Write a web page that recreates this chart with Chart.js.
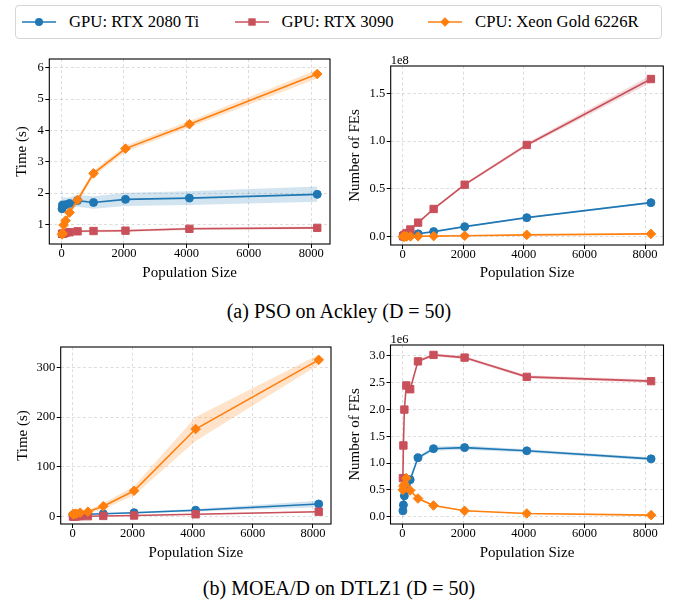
<!DOCTYPE html>
<html>
<head>
<meta charset="utf-8">
<script src="https://cdn.jsdelivr.net/npm/chart.js@4.4.1/dist/chart.umd.min.js"></script>
<style>
  html, body { margin: 0; padding: 0; background: #fff; }
  body { position: relative; width: 678px; height: 603px; overflow: hidden;
         font-family: "Liberation Serif", "Times New Roman", serif; color: #000; }
  canvas { position: absolute; }
  #legend { position: absolute; left: 15px; top: 5px; width: 647px; height: 34px;
            border: 1px solid #d6d6d6; border-radius: 4px; box-sizing: border-box; }
  .entry { position: absolute; top: 0; height: 32px; display: flex; align-items: center;
           font-size: 16.7px; white-space: nowrap; }
  .entry svg { margin-right: 13px; }
  .caption { position: absolute; left: 0; width: 678px; text-align: center;
             font-size: 20px; line-height: 20px; }
</style>
</head>
<body>
<div id="legend"></div>
<canvas id="psoTime" width="340" height="250" style="left:0px;top:50px"></canvas>
<canvas id="psoFes" width="338" height="250" style="left:340px;top:50px"></canvas>
<div class="caption" style="top:301px">(a) PSO on Ackley (D = 50)</div>
<canvas id="moeadTime" width="340" height="240" style="left:0px;top:330px"></canvas>
<canvas id="moeadFes" width="338" height="240" style="left:340px;top:330px"></canvas>
<div class="caption" style="top:578px">(b) MOEA/D on DTLZ1 (D = 50)</div>

<script>
// ---- data -------------------------------------------------------------
const POP_SIZES = [16, 32, 64, 128, 256, 512, 1024, 2048, 4096, 8192];
const SERIES_NAMES = ['GPU: RTX 2080 Ti', 'GPU: RTX 3090', 'CPU: Xeon Gold 6226R'];
const X_TICKS = [0, 2000, 4000, 6000, 8000];

// PSO on Ackley: wall-clock time (s), mean and spread band
const PSO_TIME_2080    = [1.50, 1.62, 1.60, 1.63, 1.67, 1.76, 1.70, 1.80, 1.84, 1.96];
const PSO_TIME_2080_LO = [1.36, 1.42, 1.44, 1.47, 1.50, 1.56, 1.50, 1.59, 1.62, 1.72];
const PSO_TIME_2080_HI = [2.32, 1.90, 1.86, 1.86, 1.87, 1.95, 1.90, 2.01, 2.06, 2.21];
const PSO_TIME_3090    = [0.70, 0.70, 0.71, 0.73, 0.75, 0.78, 0.79, 0.80, 0.86, 0.89];
const PSO_TIME_3090_LO = [0.66, 0.66, 0.67, 0.69, 0.71, 0.74, 0.75, 0.76, 0.82, 0.85];
const PSO_TIME_3090_HI = [0.74, 0.74, 0.75, 0.77, 0.79, 0.82, 0.83, 0.84, 0.90, 0.93];
const PSO_TIME_CPU     = [0.68, 0.72, 0.98, 1.12, 1.38, 1.78, 2.63, 3.42, 4.20, 5.80];
const PSO_TIME_CPU_LO  = [0.60, 0.63, 0.88, 1.02, 1.28, 1.68, 2.54, 3.32, 4.10, 5.66];
const PSO_TIME_CPU_HI  = [0.76, 0.81, 1.08, 1.22, 1.48, 1.88, 2.72, 3.52, 4.30, 5.94];
const PSO_TIME_YTICKS  = [1, 2, 3, 4, 5, 6];
const PSO_TIME_YLABELS = ['1', '2', '3', '4', '5', '6'];

// PSO on Ackley: number of function evaluations (x 1e8)
const PSO_FES_2080    = [0.0010, 0.0019, 0.0038, 0.0075, 0.015, 0.030, 0.053, 0.105, 0.199, 0.356];
const PSO_FES_2080_LO = [0.0008, 0.0016, 0.0034, 0.0068, 0.014, 0.028, 0.050, 0.100, 0.192, 0.346];
const PSO_FES_2080_HI = [0.0012, 0.0022, 0.0042, 0.0082, 0.016, 0.032, 0.056, 0.110, 0.206, 0.366];
const PSO_FES_3090    = [0.0048, 0.0096, 0.019, 0.038, 0.075, 0.147, 0.290, 0.544, 0.960, 1.650];
const PSO_FES_3090_LO = [0.0040, 0.0080, 0.017, 0.035, 0.070, 0.140, 0.280, 0.530, 0.940, 1.610];
const PSO_FES_3090_HI = [0.0060, 0.0110, 0.021, 0.041, 0.080, 0.155, 0.300, 0.560, 0.980, 1.690];
const PSO_FES_CPU     = [0.0005, 0.0010, 0.0015, 0.0020, 0.0030, 0.0040, 0.006, 0.010, 0.019, 0.029];
const PSO_FES_CPU_LO  = [0.0003, 0.0007, 0.0011, 0.0016, 0.0025, 0.0034, 0.005, 0.008, 0.016, 0.025];
const PSO_FES_CPU_HI  = [0.0007, 0.0013, 0.0019, 0.0024, 0.0035, 0.0046, 0.007, 0.012, 0.022, 0.033];
const PSO_FES_YTICKS  = [0, 0.5, 1.0, 1.5];
const PSO_FES_YLABELS = ['0.0', '0.5', '1.0', '1.5'];

// MOEA/D on DTLZ1: wall-clock time (s)
const MOEAD_TIME_2080    = [3.0, 3.1, 3.3, 3.6, 4.2, 5.0, 6.0, 8.0, 13.0, 25.5];
const MOEAD_TIME_2080_LO = [2.5, 2.6, 2.8, 3.1, 3.6, 4.3, 5.0, 6.5, 10.5, 19.0];
const MOEAD_TIME_2080_HI = [3.5, 3.6, 3.8, 4.1, 4.8, 5.7, 7.0, 9.5, 15.5, 32.0];
const MOEAD_TIME_3090    = [0.40, 0.45, 0.50, 0.60, 0.75, 1.0, 1.5, 2.4, 4.8, 10.0];
const MOEAD_TIME_3090_LO = [0.30, 0.35, 0.40, 0.50, 0.60, 0.8, 1.2, 2.0, 4.1, 8.8];
const MOEAD_TIME_3090_HI = [0.50, 0.55, 0.60, 0.70, 0.90, 1.2, 1.8, 2.8, 5.5, 11.2];
const MOEAD_TIME_CPU     = [5.0, 5.0, 5.5, 6.0, 8.0, 10.0, 21.0, 52.0, 176.0, 315.0];
const MOEAD_TIME_CPU_LO  = [3.0, 3.0, 3.5, 4.0, 5.5, 7.0, 15.0, 43.0, 152.0, 305.0];
const MOEAD_TIME_CPU_HI  = [7.0, 7.0, 7.5, 8.0, 10.5, 13.0, 27.0, 61.0, 200.0, 325.0];
const MOEAD_TIME_YTICKS  = [0, 100, 200, 300];
const MOEAD_TIME_YLABELS = ['0', '100', '200', '300'];

// MOEA/D on DTLZ1: number of function evaluations (x 1e6)
const MOEAD_FES_2080    = [0.11, 0.22, 0.39, 0.60, 0.69, 1.10, 1.27, 1.29, 1.23, 1.08];
const MOEAD_FES_2080_LO = [0.10, 0.21, 0.37, 0.58, 0.67, 1.07, 1.23, 1.25, 1.20, 1.05];
const MOEAD_FES_2080_HI = [0.12, 0.23, 0.41, 0.62, 0.71, 1.13, 1.31, 1.33, 1.26, 1.11];
const MOEAD_FES_3090    = [0.72, 1.33, 2.00, 2.45, 2.38, 2.90, 3.02, 2.97, 2.61, 2.53];
const MOEAD_FES_3090_LO = [0.70, 1.30, 1.97, 2.42, 2.35, 2.87, 2.99, 2.94, 2.58, 2.50];
const MOEAD_FES_3090_HI = [0.74, 1.36, 2.03, 2.48, 2.41, 2.93, 3.05, 3.00, 2.64, 2.56];
const MOEAD_FES_CPU     = [0.50, 0.57, 0.60, 0.72, 0.49, 0.34, 0.21, 0.11, 0.06, 0.03];
const MOEAD_FES_CPU_LO  = [0.48, 0.55, 0.58, 0.69, 0.47, 0.32, 0.19, 0.10, 0.05, 0.02];
const MOEAD_FES_CPU_HI  = [0.52, 0.59, 0.62, 0.75, 0.51, 0.36, 0.23, 0.12, 0.07, 0.04];
const MOEAD_FES_YTICKS  = [0, 0.5, 1.0, 1.5, 2.0, 2.5, 3.0];
const MOEAD_FES_YLABELS = ['0.0', '0.5', '1.0', '1.5', '2.0', '2.5', '3.0'];

// ---- styling ----------------------------------------------------------
const COLORS  = ['#1f77b4', '#c9505a', '#ff7f0e'];
const BANDS   = ['rgba(31,119,180,0.2)', 'rgba(201,80,90,0.2)', 'rgba(255,127,14,0.22)'];
const MARKERS = ['circle', 'rect', 'rectRot'];
const RADII   = [4, 5.2, 4.8];
const FONT = '"Liberation Serif", "Times New Roman", serif';
const X_RANGE = [-392.8, 8600.8];

Chart.defaults.font.family = FONT;
Chart.defaults.color = '#000';

// ---- legend (HTML) ----------------------------------------------------
(function buildLegend() {
  const legend = document.getElementById('legend');
  const lefts = [6, 218.5, 412];
  SERIES_NAMES.forEach((name, i) => {
    const c = COLORS[i];
    let mark;
    if (MARKERS[i] === 'circle') mark = `<circle cx="17" cy="8" r="4" fill="${c}"/>`;
    else if (MARKERS[i] === 'rect') mark = `<rect x="13.3" y="4.3" width="7.4" height="7.4" fill="${c}"/>`;
    else mark = `<polygon points="17,3.2 21.8,8 17,12.8 12.2,8" fill="${c}"/>`;
    const div = document.createElement('div');
    div.className = 'entry';
    div.style.left = lefts[i] + 'px';
    div.innerHTML = `<svg width="34" height="16"><line x1="0" y1="8" x2="34" y2="8" stroke="${c}" stroke-width="1.6"/>${mark}</svg><span>${name}</span>`;
    legend.appendChild(div);
  });
})();

// ---- chart factory ----------------------------------------------------
const axesBox = {
  id: 'axesBox',
  afterDraw(chart, args, opts) {
    const { ctx, chartArea: a } = chart;
    ctx.save();
    ctx.strokeStyle = '#000';
    ctx.lineWidth = 1.1;
    ctx.strokeRect(a.left, a.top, a.right - a.left, a.bottom - a.top);
    if (opts.exponent) {
      ctx.fillStyle = '#000';
      ctx.font = '12.5px ' + FONT;
      ctx.textAlign = 'left';
      ctx.textBaseline = 'alphabetic';
      ctx.fillText(opts.exponent, a.left, a.top - 2);
    }
    ctx.restore();
  }
};

const toPoints = arr => arr.map((v, i) => ({ x: POP_SIZES[i], y: v }));

function makeChart(id, cfg) {
  const datasets = [];
  cfg.series.forEach((s, i) => {
    datasets.push({
      label: SERIES_NAMES[i],
      data: toPoints(s.mean),
      borderColor: COLORS[i],
      backgroundColor: COLORS[i],
      pointBackgroundColor: COLORS[i],
      pointBorderColor: COLORS[i],
      pointBorderWidth: 1,
      pointStyle: MARKERS[i],
      pointRadius: RADII[i],
      borderWidth: 1.6,
      fill: false,
      tension: 0,
      order: 2 - i
    });
  });
  cfg.series.forEach((s, i) => {
    datasets.push({
      data: toPoints(s.hi), borderWidth: 0, pointRadius: 0,
      backgroundColor: BANDS[i], fill: '+1', order: 10, tension: 0
    });
    datasets.push({
      data: toPoints(s.lo), borderWidth: 0, pointRadius: 0,
      fill: false, order: 10, tension: 0
    });
  });

  const gridCommon = {
    color: 'rgba(0,0,0,0.17)', lineWidth: 0.8,
    tickColor: '#000', tickLength: 4, tickWidth: 1, drawTicks: true
  };

  return new Chart(document.getElementById(id), {
    type: 'line',
    data: { datasets },
    plugins: [axesBox],
    options: {
      responsive: false,
      animation: false,
      events: [],
      layout: { padding: { left: 0, top: cfg.top, right: cfg.right, bottom: 0 } },
      plugins: {
        legend: { display: false },
        tooltip: { enabled: false },
        axesBox: { exponent: cfg.exponent || '' }
      },
      scales: {
        x: {
          type: 'linear',
          min: X_RANGE[0], max: X_RANGE[1],
          afterBuildTicks: s => { s.ticks = X_TICKS.map(v => ({ value: v })); },
          afterFit: s => { s.height = cfg.xH; },
          grid: gridCommon,
          border: { display: false, dash: [3, 2.5] },
          ticks: { autoSkip: false, maxRotation: 0, padding: -2,
                   font: { size: 12.5 }, color: '#000',
                   callback: v => String(v) },
          title: { display: true, text: 'Population Size', color: '#000',
                   font: { size: 15 }, padding: { top: 0, bottom: cfg.xTitlePad } }
        },
        y: {
          type: 'linear',
          min: cfg.yMin, max: cfg.yMax,
          afterBuildTicks: s => { s.ticks = cfg.yTicks.map(v => ({ value: v })); },
          afterFit: s => { s.width = cfg.yW; },
          grid: gridCommon,
          border: { display: false, dash: [3, 2.5] },
          ticks: { autoSkip: false, padding: 1.5, font: { size: 12.5 }, color: '#000',
                   callback: (v, i) => cfg.yLabels[i] },
          title: { display: true, text: cfg.yTitle, color: '#000',
                   font: { size: 15 }, padding: { top: cfg.yTitlePad, bottom: 0 } }
        }
      }
    }
  });
}

makeChart('psoTime', {
  series: [
    { mean: PSO_TIME_2080, lo: PSO_TIME_2080_LO, hi: PSO_TIME_2080_HI },
    { mean: PSO_TIME_3090, lo: PSO_TIME_3090_LO, hi: PSO_TIME_3090_HI },
    { mean: PSO_TIME_CPU,  lo: PSO_TIME_CPU_LO,  hi: PSO_TIME_CPU_HI }
  ],
  yMin: 0.375, yMax: 6.28, yTicks: PSO_TIME_YTICKS, yLabels: PSO_TIME_YLABELS,
  yTitle: 'Time (s)', yW: 49.3, xH: 56, top: 8, right: 10,
  yTitlePad: 13.5, xTitlePad: 18.4
});

makeChart('psoFes', {
  series: [
    { mean: PSO_FES_2080, lo: PSO_FES_2080_LO, hi: PSO_FES_2080_HI },
    { mean: PSO_FES_3090, lo: PSO_FES_3090_LO, hi: PSO_FES_3090_HI },
    { mean: PSO_FES_CPU,  lo: PSO_FES_CPU_LO,  hi: PSO_FES_CPU_HI }
  ],
  yMin: -0.087, yMax: 1.786, yTicks: PSO_FES_YTICKS, yLabels: PSO_FES_YLABELS,
  yTitle: 'Number of FEs', yW: 50.7, xH: 55, top: 16, right: 14.7,
  yTitlePad: 6, xTitlePad: 18.4, exponent: '1e8'
});

makeChart('moeadTime', {
  series: [
    { mean: MOEAD_TIME_2080, lo: MOEAD_TIME_2080_LO, hi: MOEAD_TIME_2080_HI },
    { mean: MOEAD_TIME_3090, lo: MOEAD_TIME_3090_LO, hi: MOEAD_TIME_3090_HI },
    { mean: MOEAD_TIME_CPU,  lo: MOEAD_TIME_CPU_LO,  hi: MOEAD_TIME_CPU_HI }
  ],
  yMin: -14.7, yMax: 340.8, yTicks: MOEAD_TIME_YTICKS, yLabels: MOEAD_TIME_YLABELS,
  yTitle: 'Time (s)', yW: 60.7, xH: 46, top: 17, right: 9,
  yTitlePad: 14, xTitlePad: 8.3
});

makeChart('moeadFes', {
  series: [
    { mean: MOEAD_FES_2080, lo: MOEAD_FES_2080_LO, hi: MOEAD_FES_2080_HI },
    { mean: MOEAD_FES_3090, lo: MOEAD_FES_3090_LO, hi: MOEAD_FES_3090_HI },
    { mean: MOEAD_FES_CPU,  lo: MOEAD_FES_CPU_LO,  hi: MOEAD_FES_CPU_HI }
  ],
  yMin: -0.136, yMax: 3.205, yTicks: MOEAD_FES_YTICKS, yLabels: MOEAD_FES_YLABELS,
  yTitle: 'Number of FEs', yW: 50.5, xH: 46, top: 15, right: 14.5,
  yTitlePad: 6, xTitlePad: 8.3, exponent: '1e6'
});
</script>
</body>
</html>
